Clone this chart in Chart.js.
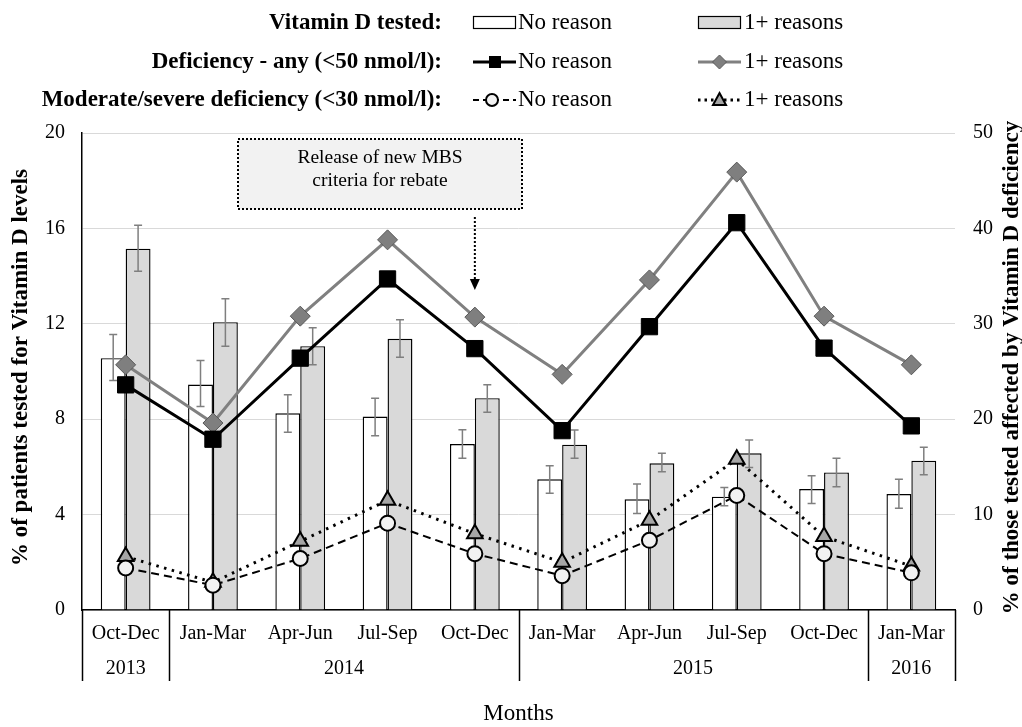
<!DOCTYPE html>
<html><head><meta charset="utf-8">
<script src="https://cdn.jsdelivr.net/npm/chart.js@4.4.0/dist/chart.umd.min.js"></script>
<style>html,body{margin:0;padding:0;background:#fff;}#wrap{width:1022px;height:727px;position:relative;}</style>
</head><body><div id="wrap"><canvas id="c" width="1022" height="727"></canvas></div>
<script>
const quarters = ['Oct-Dec','Jan-Mar','Apr-Jun','Jul-Sep','Oct-Dec','Jan-Mar','Apr-Jun','Jul-Sep','Oct-Dec','Jan-Mar'];
const years = ['2013','2014','2015','2016'];
const yearSpans = [1,4,4,1];
const seriesNames = ['No reason','1+ reasons'];
const legendGroups = ['Vitamin D tested:','Deficiency - any (<50 nmol/l):','Moderate/severe deficiency (<30 nmol/l):'];
const testedNoReason     = [10.56, 9.45, 8.25, 8.11, 6.96, 5.48, 4.64, 4.75, 5.07, 4.86];
const testedNoReasonLow  = [9.62, 8.53, 7.45, 7.31, 6.36, 4.89, 4.05, 4.37, 4.47, 4.27];
const testedNoReasonHigh = [11.55, 10.46, 9.03, 8.88, 7.56, 6.05, 5.28, 5.14, 5.63, 5.48];
const testedReasons      = [15.15, 12.07, 11.06, 11.37, 8.88, 6.93, 6.15, 6.57, 5.77, 6.26];
const testedReasonsLow   = [14.2, 11.06, 10.28, 10.6, 8.29, 6.36, 5.8, 5.98, 5.17, 5.67];
const testedReasonsHigh  = [16.13, 13.05, 11.83, 12.17, 9.44, 7.55, 6.57, 7.13, 6.36, 6.82];
const defAnyNoReason = [23.6, 17.9, 26.4, 34.7, 27.4, 18.8, 29.7, 40.6, 27.45, 19.3];
const defAnyReasons  = [25.7, 19.6, 30.8, 38.8, 30.7, 24.7, 34.6, 45.9, 30.8, 25.7];
const defModNoReason = [4.4, 2.6, 5.4, 9.1, 5.9, 3.6, 7.3, 12.0, 5.9, 3.9];
const defModReasons  = [5.6, 2.9, 7.2, 11.5, 8.0, 5.0, 9.4, 15.8, 7.7, 4.6];
const leftMax = 20, leftStep = 4, rightMax = 50, rightStep = 10;
const annotationLines = ['Release of new MBS','criteria for rebate'];
const annotationCategory = 4;
const leftTitle = '% of patients tested for Vitamin D levels';
const rightTitle = '% of those tested affected by Vitamin D deficiency';
const xTitle = 'Months';

const FONT = "'Liberation Serif','Times New Roman',serif";
Chart.defaults.font.family = FONT;
Chart.defaults.color = '#000';

const errorBars = {
  id: 'errorBars',
  afterDatasetDraw(chart, args) {
    const ds = chart.data.datasets[args.index];
    if (!ds.errLow) return;
    const ys = chart.scales.y, ctx = chart.ctx;
    ctx.save();
    ctx.strokeStyle = '#7f7f7f'; ctx.lineWidth = 1.5;
    args.meta.data.forEach((bar, i) => {
      const x = bar.x, yl = ys.getPixelForValue(ds.errLow[i]), yh = ys.getPixelForValue(ds.errHigh[i]);
      ctx.beginPath();
      ctx.moveTo(x, yl); ctx.lineTo(x, yh);
      ctx.moveTo(x - 4, yl); ctx.lineTo(x + 4, yl);
      ctx.moveTo(x - 4, yh); ctx.lineTo(x + 4, yh);
      ctx.stroke();
    });
    ctx.restore();
  }
};

const extras = {
  id: 'extras',
  afterDraw(chart) {
    const ctx = chart.ctx, xs = chart.scales.x, ca = chart.chartArea;
    const half = (xs.getPixelForValue(1) - xs.getPixelForValue(0)) / 2;
    ctx.save();
    ctx.strokeStyle = '#000'; ctx.lineWidth = 1.5;
    let idx = 0;
    const bounds = [idx];
    yearSpans.forEach(s => { idx += s; bounds.push(idx); });
    bounds.forEach(b => {
      const px = Math.round(xs.getPixelForValue(b) - half) + 0.5;
      ctx.beginPath(); ctx.moveTo(px, ca.bottom); ctx.lineTo(px, ca.bottom + 71); ctx.stroke();
    });
    ctx.font = '20px ' + FONT; ctx.fillStyle = '#000'; ctx.textAlign = 'center'; ctx.textBaseline = 'middle';
    years.forEach((yr, i) => {
      const a = xs.getPixelForValue(bounds[i]) - half, b = xs.getPixelForValue(bounds[i + 1]) - half;
      ctx.fillText(yr, (a + b) / 2, ca.bottom + 59);
    });
    ctx.font = '23px ' + FONT;
    ctx.fillText(xTitle, (ca.left + ca.right) / 2, 714);
    ctx.font = 'bold 23px ' + FONT;
    const cy = (ca.top + ca.bottom) / 2 - 4;
    ctx.save(); ctx.translate(21, cy); ctx.rotate(-Math.PI / 2); ctx.fillText(leftTitle, 0, 0); ctx.restore();
    ctx.save(); ctx.translate(1012, cy); ctx.rotate(-Math.PI / 2); ctx.fillText(rightTitle, 0, 0); ctx.restore();

    const bx = 238, by = 139, bw = 284, bh = 70;
    ctx.fillStyle = '#f2f2f2'; ctx.fillRect(bx, by, bw, bh);
    ctx.setLineDash([2, 2]); ctx.lineWidth = 2; ctx.strokeStyle = '#000';
    ctx.strokeRect(bx, by, bw, bh);
    ctx.fillStyle = '#000'; ctx.font = '19.5px ' + FONT; ctx.textBaseline = 'middle';
    ctx.fillText(annotationLines[0], bx + bw / 2, 158);
    ctx.fillText(annotationLines[1], bx + bw / 2, 181);
    const ax = xs.getPixelForValue(annotationCategory);
    ctx.beginPath(); ctx.moveTo(ax, 217); ctx.lineTo(ax, 280); ctx.stroke();
    ctx.setLineDash([]);
    ctx.beginPath(); ctx.moveTo(ax - 5, 279); ctx.lineTo(ax + 5, 279); ctx.lineTo(ax, 290); ctx.closePath(); ctx.fill();

    const rowsY = [23, 62, 100];
    ctx.font = 'bold 23px ' + FONT; ctx.textAlign = 'right';
    legendGroups.forEach((g, i) => ctx.fillText(g, 442, rowsY[i]));
    ctx.font = '23px ' + FONT; ctx.textAlign = 'left';
    const cols = [473, 698];
    rowsY.forEach(y => { ctx.fillText(seriesNames[0], 518, y); ctx.fillText(seriesNames[1], 744, y); });
    ctx.lineWidth = 1.2; ctx.strokeStyle = '#000';
    ctx.fillStyle = '#fff'; ctx.fillRect(cols[0] + 0.5, 16.5, 42, 12); ctx.strokeRect(cols[0] + 0.5, 16.5, 42, 12);
    ctx.fillStyle = '#d9d9d9'; ctx.fillRect(cols[1] + 0.5, 16.5, 42, 12); ctx.strokeRect(cols[1] + 0.5, 16.5, 42, 12);
    let y = rowsY[1];
    ctx.lineWidth = 3; ctx.strokeStyle = '#000';
    ctx.beginPath(); ctx.moveTo(cols[0], y); ctx.lineTo(cols[0] + 43, y); ctx.stroke();
    ctx.fillStyle = '#000'; ctx.fillRect(cols[0] + 16, y - 6, 12, 12);
    ctx.strokeStyle = '#808080';
    ctx.beginPath(); ctx.moveTo(cols[1], y); ctx.lineTo(cols[1] + 43, y); ctx.stroke();
    ctx.fillStyle = '#7f7f7f'; ctx.strokeStyle = '#595959'; ctx.lineWidth = 1;
    ctx.beginPath(); const dx = cols[1] + 21.5;
    ctx.moveTo(dx - 7, y); ctx.lineTo(dx, y - 7); ctx.lineTo(dx + 7, y); ctx.lineTo(dx, y + 7); ctx.closePath(); ctx.fill(); ctx.stroke();
    y = rowsY[2];
    ctx.strokeStyle = '#000'; ctx.lineWidth = 2; ctx.setLineDash([6, 4]);
    ctx.beginPath(); ctx.moveTo(cols[0], y); ctx.lineTo(cols[0] + 43, y); ctx.stroke();
    ctx.setLineDash([2.5, 4]); ctx.lineWidth = 3;
    ctx.beginPath(); ctx.moveTo(cols[1], y); ctx.lineTo(cols[1] + 43, y); ctx.stroke();
    ctx.setLineDash([]); ctx.lineWidth = 2;
    ctx.fillStyle = '#f2f2f2';
    ctx.beginPath(); ctx.arc(cols[0] + 19, y, 6, 0, Math.PI * 2); ctx.fill(); ctx.stroke();
    ctx.fillStyle = '#a6a6a6';
    const tx = cols[1] + 21.5;
    ctx.beginPath(); ctx.moveTo(tx, y - 7); ctx.lineTo(tx + 6.5, y + 5); ctx.lineTo(tx - 6.5, y + 5); ctx.closePath(); ctx.fill(); ctx.stroke();
    ctx.restore();
  }
};

new Chart(document.getElementById('c'), {
  type: 'bar',
  data: {
    labels: quarters,
    datasets: [
      { type: 'line', label: 'Deficiency any - ' + seriesNames[0], data: defAnyNoReason, yAxisID: 'y1', order: 1,
        borderColor: '#000', borderWidth: 3, pointStyle: 'rect', pointRadius: 11.5, pointHoverRadius: 11.5,
        pointBackgroundColor: '#000', pointBorderColor: '#000', pointBorderWidth: 1, tension: 0, fill: false },
      { type: 'line', label: 'Deficiency any - ' + seriesNames[1], data: defAnyReasons, yAxisID: 'y1', order: 2,
        borderColor: '#808080', borderWidth: 3, pointStyle: 'rectRot', pointRadius: 10, pointHoverRadius: 10,
        pointBackgroundColor: '#7f7f7f', pointBorderColor: '#595959', pointBorderWidth: 1, tension: 0, fill: false },
      { type: 'line', label: 'Moderate/severe - ' + seriesNames[0], data: defModNoReason, yAxisID: 'y1', order: 3,
        borderColor: '#000', borderWidth: 2, borderDash: [8, 5], pointStyle: 'circle', pointRadius: 7.5, pointHoverRadius: 7.5,
        pointBackgroundColor: '#f2f2f2', pointBorderColor: '#000', pointBorderWidth: 2, tension: 0, fill: false },
      { type: 'line', label: 'Moderate/severe - ' + seriesNames[1], data: defModReasons, yAxisID: 'y1', order: 4,
        borderColor: '#000', borderWidth: 3, borderDash: [2.5, 5.5], pointStyle: 'triangle', pointRadius: 9, pointHoverRadius: 9,
        pointBackgroundColor: '#a6a6a6', pointBorderColor: '#000', pointBorderWidth: 2, tension: 0, fill: false },
      { type: 'bar', label: 'Tested - ' + seriesNames[0], data: testedNoReason, errLow: testedNoReasonLow, errHigh: testedNoReasonHigh,
        yAxisID: 'y', order: 10, backgroundColor: '#ffffff', borderColor: '#000', borderWidth: 1.4,
        categoryPercentage: 0.57, barPercentage: 1.0 },
      { type: 'bar', label: 'Tested - ' + seriesNames[1], data: testedReasons, errLow: testedReasonsLow, errHigh: testedReasonsHigh,
        yAxisID: 'y', order: 11, backgroundColor: '#d9d9d9', borderColor: '#000', borderWidth: 1.4,
        categoryPercentage: 0.57, barPercentage: 1.0 }
    ]
  },
  options: {
    responsive: false, animation: false,
    layout: { padding: { top: 133, left: 0, right: 0, bottom: 0 } },
    plugins: { legend: { display: false }, tooltip: { enabled: false } },
    scales: {
      x: {
        grid: { display: false, drawTicks: false },
        border: { display: true, color: '#000', width: 1.5 },
        ticks: { font: { size: 20 }, color: '#000', padding: 12, autoSkip: false, maxRotation: 0 },
        afterFit(s) { s.height = 117; }
      },
      y: {
        position: 'left', min: 0, max: leftMax,
        ticks: { stepSize: leftStep, font: { size: 20 }, color: '#000', padding: 17 },
        grid: { color: '#d9d9d9', lineWidth: 1, drawTicks: false },
        border: { display: true, color: '#000', width: 1.5 },
        afterFit(s) { s.width = 82; }
      },
      y1: {
        position: 'right', min: 0, max: rightMax,
        ticks: { stepSize: rightStep, font: { size: 20 }, color: '#000', padding: 18 },
        grid: { display: false, drawTicks: false },
        border: { display: false },
        afterFit(s) { s.width = 67; }
      }
    }
  },
  plugins: [errorBars, extras]
});
</script>
</body></html>
